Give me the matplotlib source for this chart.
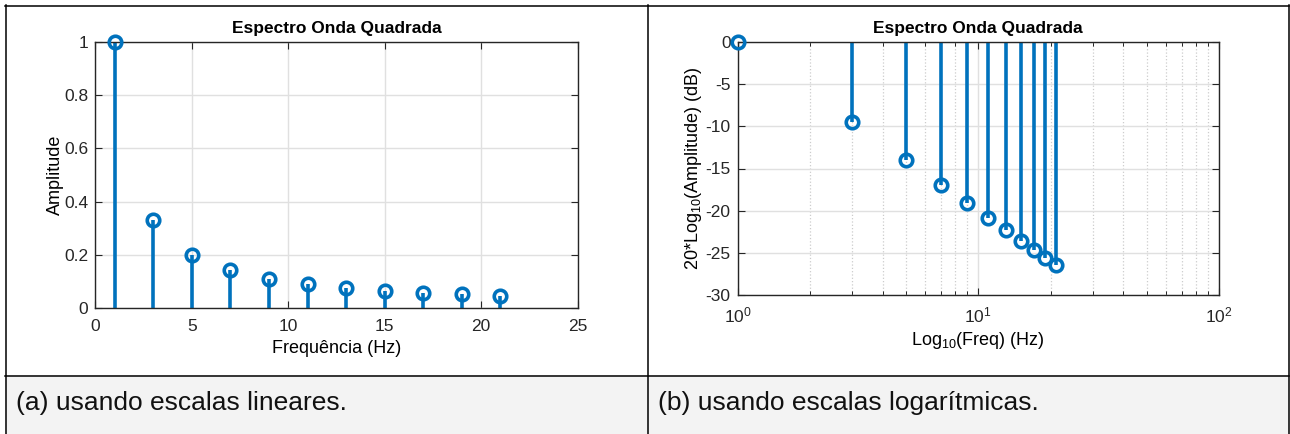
#Espectro de uma onda quadrada: escala linear e escala logaritmica
import numpy as np
import matplotlib
matplotlib.use('Agg')
import matplotlib.pyplot as plt
from matplotlib.patches import Rectangle
from matplotlib.ticker import LogLocator, NullFormatter

plt.rcParams['font.family'] = ['Liberation Sans', 'DejaVu Sans']
plt.rcParams['mathtext.fontset'] = 'custom'
plt.rcParams['mathtext.rm'] = 'Liberation Sans'
plt.rcParams['mathtext.it'] = 'Liberation Sans:italic'
plt.rcParams['axes.unicode_minus'] = False

#Dados
harmonicos = [1, 3, 5, 7, 9, 11, 13, 15, 17, 19, 21]
amplitude = [1.0, 0.333, 0.2, 0.143, 0.111, 0.0909, 0.0769, 0.0667, 0.0588, 0.0526, 0.0476]
amplitude_db = [0.0, -9.54, -13.98, -16.9, -19.08, -20.83, -22.28, -23.52, -24.61, -25.58, -26.44]
titulo = 'Espectro Onda Quadrada'
legendas = ['(a) usando escalas lineares.', '(b) usando escalas logarítmicas.']

W, H = 1290, 434
azul = '#0072BD'
cor_grade = '#e0e0e0'

fig = plt.figure(figsize=(W/100, H/100), dpi=100)
fig.patch.set_facecolor('white')

#Tabela (moldura e legendas)
bg = fig.add_axes([0, 0, 1, 1], zorder=-5)
bg.set_xlim(0, W)
bg.set_ylim(H, 0)
bg.axis('off')
bg.add_patch(Rectangle((5, 375), 642, 60, facecolor='#f3f3f3', edgecolor='none'))
bg.add_patch(Rectangle((647, 375), 642, 60, facecolor='#f3f3f3', edgecolor='none'))
lw_tab = 1.1
bg.plot([5, 1288.5], [5.5, 5.5], color='black', lw=lw_tab)
bg.plot([5, 1288.5], [375.5, 375.5], color='black', lw=lw_tab)
bg.plot([5.5, 5.5], [5, H], color='black', lw=lw_tab)
bg.plot([647.5, 647.5], [5, H], color='black', lw=lw_tab)
bg.plot([1288.5, 1288.5], [5, H], color='black', lw=lw_tab)
bg.text(16, 403, legendas[0], fontsize=19, va='center', ha='left', color='#111111')
bg.text(658, 403, legendas[1], fontsize=19, va='center', ha='left', color='#111111')

def estilo(ax, xpad):
    ax.tick_params(direction='in', top=True, right=True, length=5, width=0.8,
                   labelsize=12.5, colors='#262626')
    ax.tick_params(axis='y', pad=5)
    ax.tick_params(axis='x', pad=xpad)
    ax.tick_params(which='minor', direction='in', top=True, length=3, width=0.6)
    for s in ax.spines.values():
        s.set_color('#262626')
        s.set_linewidth(1.0)
    ax.set_title(titulo, fontsize=12.5, fontweight='bold', pad=6)

#Grafico linear
ax1 = fig.add_axes([95.4/W, (H-308.3)/H, 482.1/W, 266.6/H])
ml, sl, bl = ax1.stem(harmonicos, amplitude, basefmt=' ')
plt.setp(sl, color=azul, linewidth=2.6)
plt.setp(ml, color=azul, markersize=9, markerfacecolor='none', markeredgewidth=2.6, clip_on=False, zorder=4)
ax1.set_xlim(0, 25)
ax1.set_ylim(0, 1)
ax1.set_xticks(np.arange(0, 26, 5))
ax1.set_yticks([0, 0.2, 0.4, 0.6, 0.8, 1])
ax1.set_yticklabels(['0', '0.2', '0.4', '0.6', '0.8', '1'])
ax1.grid(True, color=cor_grade, linewidth=1.0)
ax1.set_axisbelow(True)
ax1.set_xlabel('Frequência (Hz)', fontsize=13, labelpad=4)
ax1.set_ylabel('Amplitude', fontsize=13, labelpad=0)
estilo(ax1, 8)

#Grafico logaritmico
ax2 = fig.add_axes([737.6/W, (H-295.3)/H, 481.4/W, 253.6/H])
ml, sl, bl = ax2.stem(harmonicos, amplitude_db, bottom=0, basefmt=' ')
plt.setp(sl, color=azul, linewidth=2.6)
plt.setp(ml, color=azul, markersize=9, markerfacecolor='none', markeredgewidth=2.6, clip_on=False, zorder=4)
ax2.set_xscale('log')
ax2.set_xlim(1, 100)
ax2.set_ylim(-30, 0)
ax2.set_yticks(np.arange(-30, 1, 5))
ax2.xaxis.set_minor_locator(LogLocator(base=10, subs=np.arange(2, 10)))
ax2.xaxis.set_minor_formatter(NullFormatter())
ax2.grid(True, which='major', color=cor_grade, linewidth=1.0)
ax2.grid(True, which='minor', axis='x', color='#cccccc', linestyle=':', linewidth=0.9)
ax2.set_axisbelow(True)
ax2.set_xlabel('Log$_{10}$(Freq) (Hz)', fontsize=13, labelpad=4)
ax2.set_ylabel('20*Log$_{10}$(Amplitude) (dB)', fontsize=13, labelpad=1)
estilo(ax2, 7)

plt.savefig('out.png', dpi=100)
